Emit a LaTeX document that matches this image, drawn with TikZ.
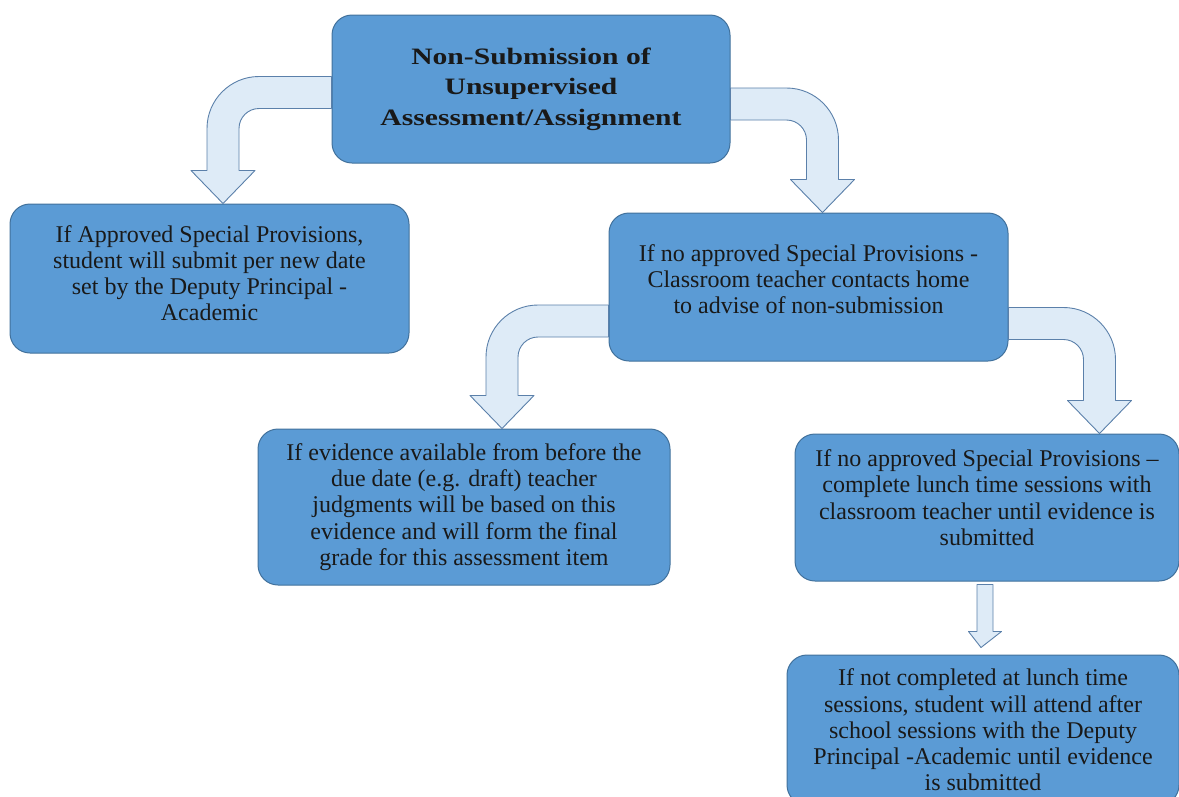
\documentclass[tikz,border=0pt]{standalone}
\usepackage{fontspec}
\setmainfont{Liberation Serif}
\newfontface\titleface{Liberation Serif Bold}[FakeStretch=1.26]
\usetikzlibrary{calc}
\definecolor{boxblue}{HTML}{5B9BD5}
\definecolor{boxline}{HTML}{41719C}
\definecolor{arrowfill}{HTML}{DEEBF7}
\definecolor{arrowline}{HTML}{5B80AA}
\tikzset{
  box/.style={draw=boxline, fill=boxblue, line width=1pt, rounded corners=20pt,
    align=center, inner sep=0pt, text=black!90, font=\fontsize{24}{26.3}\selectfont},
  blockarrow/.style={draw=arrowline, fill=arrowfill, line width=0.9pt, line join=round},
}
% bent block arrow: #1 middle of the band on the box side, #2 tip, #3 = 1 turns left, -1 turns right
\newcommand{\bendarrow}[3]{%
  \path[blockarrow] let \p1=#1, \p2=#2 in
    (\x1,{\y1+16pt}) -- ({\x2+36pt*(#3)},{\y1+16pt})
    .. controls ({\x2+7.3pt*(#3)},{\y1+16pt}) and ({\x2-16pt*(#3)},{\y1-7.3pt}) .. ({\x2-16pt*(#3)},{\y1-36pt})
    -- ({\x2-16pt*(#3)},{\y2+33pt}) -- ({\x2-32pt*(#3)},{\y2+33pt}) -- (\x2,\y2)
    -- ({\x2+32pt*(#3)},{\y2+33pt}) -- ({\x2+16pt*(#3)},{\y2+33pt}) -- ({\x2+16pt*(#3)},{\y1-36pt})
    .. controls ({\x2+16pt*(#3)},{\y1-25pt}) and ({\x2+25pt*(#3)},{\y1-16pt}) .. ({\x2+36pt*(#3)},{\y1-16pt})
    -- (\x1,{\y1-16pt}) -- cycle;}

\begin{document}
\begin{tikzpicture}[x=1pt,y=-1pt]
  \useasboundingbox (0,0) rectangle (1179,796);
  \clip (0,0) rectangle (1179,796);
  % boxes
  \node[box, minimum width=398pt, minimum height=148pt, font=\titleface\fontsize{23.5}{30.5}\selectfont] (top) at (531,89)
    {Non-Submission of\\Unsupervised\\Assessment/Assignment};
  \node[box, minimum width=399pt, minimum height=149pt, text depth=11pt] (appr) at (209.5,278.5)
    {If Approved Special Provisions,\\student will submit per new date\\set by the Deputy Principal -\\Academic};
  \node[box, minimum width=399pt, minimum height=148pt, text depth=16pt] (noappr) at (808.5,287)
    {If no approved Special Provisions -\\Classroom teacher contacts home\\to advise of non-submission};
  \node[box, minimum width=412pt, minimum height=156pt] (evid) at (464,507)
    {If evidence available from before the\\due date (e.g. draft) teacher\\judgments will be based on this\\evidence and will form the final\\grade for this assessment item};
  \node[box, minimum width=384pt, minimum height=147pt, text depth=20pt] (lunch) at (987,507.5)
    {If no approved Special Provisions –\\complete lunch time sessions with\\classroom teacher until evidence is\\submitted};
  \node[box, minimum width=392pt, minimum height=150pt] (after) at (983,730)
    {If not completed at lunch time\\sessions, student will attend after\\school sessions with the Deputy\\Principal -Academic until evidence\\is submitted};
  % bent arrows
  \bendarrow{($(top.west)+(0,3.5)$)}{($(appr.north)+(13.5,0)$)}{1}
  \bendarrow{($(top.east)+(0,15)$)}{($(noappr.north)+(14,0)$)}{-1}
  \bendarrow{($(noappr.west)+(0,34)$)}{($(evid.north)+(38,0)$)}{1}
  \bendarrow{($(noappr.east)+(0,36.5)$)}{($(lunch.north)+(112.5,0)$)}{-1}
  % straight arrow
  \path[blockarrow] let \p1=($(lunch.south)+(-2,3)$), \p2=($(after.north)+(-2,-7)$) in
    ({\x1-8pt},\y1) -- ({\x1+8pt},\y1) -- ({\x1+8pt},{\y2+16pt}) -- ({\x1+16.5pt},{\y2+16pt})
    -- (\x2,\y2) -- ({\x1-16.5pt},{\y2+16pt}) -- ({\x1-8pt},{\y2+16pt}) -- cycle;
\end{tikzpicture}
\end{document}
